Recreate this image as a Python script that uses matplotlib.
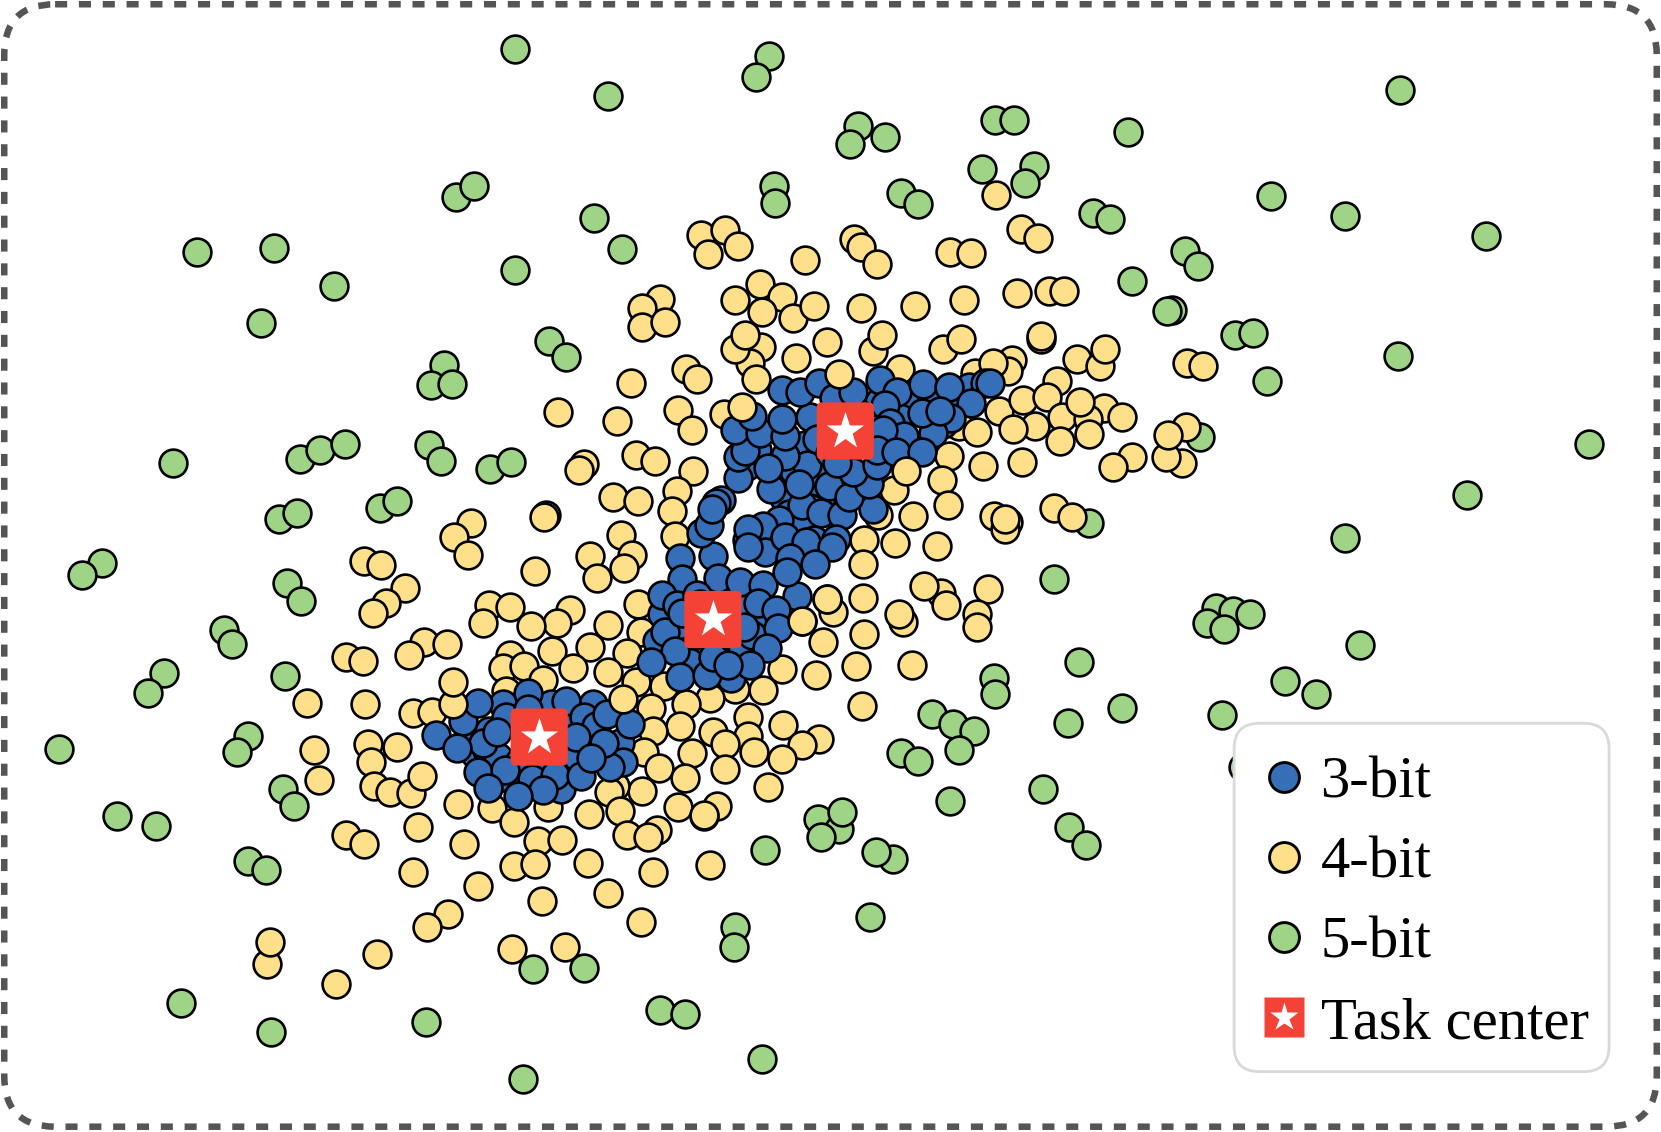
import matplotlib
matplotlib.use('Agg')
import matplotlib.pyplot as plt
from matplotlib.lines import Line2D
from matplotlib.patches import FancyBboxPatch
from matplotlib.legend_handler import HandlerTuple

# points (x, y)
green_pts = [(486,46),(726,53),(714,73),(574,91),(1322,85),(810,119),(835,129),(802,136),(939,113),(957,113),
    (1065,125),(927,160),(976,157),(968,173),(731,176),(732,192),(851,182),(867,193),(1200,185),(430,186),
    (447,176),(561,206),(587,235),(1270,204),(1032,201),(1048,207),(1403,223),(186,238),(259,234),(486,255),
    (1119,237),(1131,251),(1069,265),(315,270),(1106,293),(1102,294),(246,305),(1166,316),(1183,314),(518,322),
    (534,337),(419,345),(407,364),(427,363),(1320,336),(1196,360),(405,420),(416,435),(283,433),(302,425),
    (326,419),(163,437),(463,443),(482,436),(1133,413),(1500,419),(359,480),(375,473),(263,490),(280,484),
    (1385,467),(1028,494),(1270,508),(96,532),(77,543),(271,551),(284,568),(995,547),(1148,574),(1164,577),
    (1180,580),(1139,588),(1155,594),(211,595),(219,608),(1284,609),(1019,625),(155,636),(140,654),(269,638),
    (938,640),(939,655),(1213,643),(1242,655),(1059,669),(1154,675),(880,674),(900,684),(919,690),(1008,683),
    (234,695),(224,710),(56,707),(905,708),(851,711),(867,719),(985,745),(267,745),(278,761),(897,756),
    (1173,724),(110,771),(147,780),(772,773),(792,783),(795,767),(775,790),(1009,781),(1025,798),(234,813),
    (251,822),(722,803),(843,811),(827,805),(821,866),(694,875),(693,894),(503,915),(551,914),(171,947),
    (623,954),(647,958),(256,975),(402,965),(719,1000),(494,1019)]

yellow_pts = [(662,222),(684,217),(697,232),(668,240),(760,246),(806,226),(813,233),(828,249),(897,238),(917,239),
    (964,216),(980,225),(940,184),(623,282),(606,291),(606,309),(628,304),(717,268),(694,283),(738,280),
    (719,295),(749,300),(768,289),(813,291),(864,289),(910,283),(960,277),(990,275),(1004,275),(718,328),
    (708,343),(694,330),(703,316),(781,323),(824,331),(833,316),(751,338),(983,320),(983,317),(890,330),
    (907,320),(1017,339),(1038,346),(1043,330),(1121,343),(1136,346),(920,352),(935,358),(955,340),(952,350),
    (937,343),(850,348),(648,348),(658,358),(714,358),(596,362),(998,360),(527,389),(582,398),(640,387),
    (653,406),(683,391),(943,388),(905,402),(922,408),(966,378),(988,375),(1042,385),(1059,394),(1003,394),
    (1027,396),(1020,380),(977,402),(956,405),(1028,410),(1001,416),(1120,403),(1116,437),(1101,432),(1103,411),
    (1069,432),(1051,441),(965,436),(928,440),(896,431),(889,453),(844,463),(600,430),(618,435),(551,438),
    (547,444),(654,445),(639,464),(579,469),(602,473),(634,483),(895,477),(829,486),(862,487),(938,487),
    (952,493),(949,500),(949,490),(995,480),(1012,488),(515,486),(514,488),(445,494),(429,507),(442,524),
    (586,505),(637,506),(816,510),(845,513),(885,516),(557,525),(597,524),(589,536),(564,546),(505,539),
    (344,530),(360,534),(815,533),(382,555),(364,569),(352,579),(462,571),(481,573),(538,576),(526,588),
    (501,591),(456,588),(574,590),(602,570),(605,597),(786,578),(781,566),(757,586),(815,565),(888,560),
    (872,553),(893,571),(933,556),(852,587),(849,580),(922,580),(922,592),(816,599),(777,606),(400,606),
    (422,608),(386,619),(327,620),(343,624),(557,611),(592,617),(521,615),(481,619),(475,631),(495,629),
    (513,642),(541,631),(574,635),(600,644),(627,648),(738,632),(770,637),(808,629),(861,628),(814,667),
    (720,652),(694,651),(478,653),(290,664),(345,665),(390,673),(408,672),(670,659),(615,669),(648,665),
    (706,677),(642,686),(673,691),(616,690),(739,685),(706,695),(773,698),(757,704),(712,710),(738,717),
    (653,711),(684,703),(347,703),(375,705),(296,708),(350,720),(608,710),(622,725),(684,726),(647,735),
    (301,737),(353,742),(368,748),(388,749),(725,743),(606,747),(581,742),(575,748),(640,762),(677,761),
    (665,771),(665,770),(432,759),(464,763),(517,762),(556,769),(585,766),(485,776),(395,781),(620,784),
    (592,789),(612,790),(327,789),(344,797),(438,797),(508,794),(531,793),(390,823),(485,818),(505,816),
    (555,815),(616,823),(670,817),(451,837),(574,843),(512,851),(423,863),(403,875),(605,871),(252,910),
    (255,890),(356,901),(483,896),(533,894),(317,929)]

# dense middle of the clusters first, the visible rim after it
blue_fill_pts = [(440,700),(448,712),(462,690),(460,708),(470,715),(485,735),(530,715),(545,715),(560,665),(535,680),
    (555,700),(520,740),(505,715),(490,720),(475,665),(520,665),(470,735),(530,745),
    (690,600),(660,610),(650,625),(700,615),(690,640),(655,600),(640,590),(700,570),(720,590),(710,600),
    (685,560),(670,590),(625,580),(620,605),
    (760,420),(780,400),(820,395),(830,380),(810,390),(855,390),(860,375),(880,375),(905,375),(915,365),
    (930,362),(800,430),(815,415),(750,445),(770,450),(790,470),(775,470),(740,470),(765,480),(745,485),
    (755,495),(705,440),(715,425),(810,455),(840,415),(890,400),(850,395),(735,510),(750,515),(705,510),(715,510)]

blue_pts = [(451,729),(437,681),(478,677),(498,654),(498,670),(534,662),(551,677),(563,686),(544,696),(585,702),
    (588,720),(502,736),(524,732),(513,746),(456,702),(477,727),(412,694),(451,664),(431,706),(469,691),
    (461,744),(489,752),(548,733),(576,724),(570,702),(558,716),(573,674),(595,684),
    (642,527),(673,525),(644,547),(678,546),(625,562),(639,571),(658,562),(699,550),(720,552),(716,569),
    (752,563),(733,576),(734,593),(724,612),(708,628),(628,597),(637,615),(615,625),(642,639),(667,637),
    (673,620),(687,628),(702,592),(644,579),(661,570),
    (757,477),(775,484),(795,486),(824,481),(783,459),(801,469),(820,457),(805,446),(828,439),(762,439),
    (754,457),(728,462),(741,431),(725,442),(697,451),(697,432),(703,426),(694,406),(717,409),(710,393),
    (741,412),(738,396),(765,394),(771,415),(784,428),(790,437),(738,368),(755,370),(773,362),(787,376),
    (805,370),(831,359),(847,370),(871,363),(896,365),(935,362),(917,381),(898,395),(881,409),(870,390),
    (887,388),(835,382),(840,399),(853,412),(834,406),(828,425),(846,427),(870,427),
    (681,472),(676,475),(662,503),(669,496),(672,481),(735,491),(720,497),(706,500),(722,521),(706,517),
    (741,507),(768,510),(761,512),(789,509),(785,517),(746,527),(769,533),(743,540)]

# these sit on top of the blue ones
yellow_top_pts = [(792,353),(700,384),(428,665),(428,644),(588,660),(855,445),(398,733),(781,566),(757,586)]

task_x = [509, 673, 798]
task_y = [696, 585, 407]

labels = ['3-bit', '4-bit', '5-bit', 'Task center']

BLUE = '#366FB7'
YELLOW = '#FEE08B'
GREEN = '#9FD486'
RED = '#F44336'

plt.rcParams['font.family'] = ['Liberation Serif', 'DejaVu Serif']

fig = plt.figure(figsize=(16.61, 11.32), dpi=100)
ax = fig.add_axes([0, 0, 1, 1])
ax.set_xlim(0, 1568)
ax.set_ylim(1069, 0)
ax.axis('off')


def dots(pts, color, z):
    ax.scatter([p[0] for p in pts], [p[1] for p in pts], s=400, c=color,
               edgecolors='black', linewidths=1.9, zorder=z)


dots(green_pts, GREEN, 2)
dots(yellow_pts, YELLOW, 3)
dots(blue_fill_pts, BLUE, 4)
dots(blue_pts, BLUE, 4.1)
dots(yellow_top_pts, YELLOW, 5)

# task centers: red rounded square + white star
for x, y in zip(task_x, task_y):
    ax.add_patch(FancyBboxPatch((x - 22, y - 22), 44, 44, boxstyle='round,pad=5,rounding_size=5',
                                fc=RED, ec='none', zorder=6))
ax.scatter(task_x, task_y, marker='*', s=800, c='white', linewidths=0, zorder=7)

# dashed outer border
ax.add_patch(FancyBboxPatch((50, 50), 1468, 968, boxstyle='round,pad=46,rounding_size=48',
                            fc='none', ec='#555555', lw=4.7, linestyle=(0, (1.85, 1.8)),
                            capstyle='butt', clip_on=False, zorder=8))

# legend frame on its own, the padding is wider on top than on the side
ax.add_patch(FancyBboxPatch((1189, 707), 306, 281, boxstyle='round,pad=24,rounding_size=24',
                            fc='white', ec='#d9d9d9', lw=2.0, zorder=8.5))

handles = [
    Line2D([], [], ls='none', marker='o', ms=21.5, mfc=BLUE, mec='black', mew=2.1),
    Line2D([], [], ls='none', marker='o', ms=21.5, mfc=YELLOW, mec='black', mew=2.1),
    Line2D([], [], ls='none', marker='o', ms=21.5, mfc=GREEN, mec='black', mew=2.1),
    (Line2D([], [], ls='none', marker='s', ms=28.5, mfc=RED, mec='none'),
     Line2D([], [], ls='none', marker='*', ms=21, mfc='white', mec='none')),
]
leg = ax.legend(handles, labels, loc='upper left', bbox_to_anchor=(1195, 714),
                bbox_transform=ax.transData, borderaxespad=0, borderpad=0, fontsize=42.3,
                labelspacing=0.445, handlelength=0.6, handletextpad=0.33, frameon=False,
                handler_map={tuple: HandlerTuple(ndivide=1, pad=0)})
leg.set_zorder(9)

fig.savefig('out.png', dpi=100)
